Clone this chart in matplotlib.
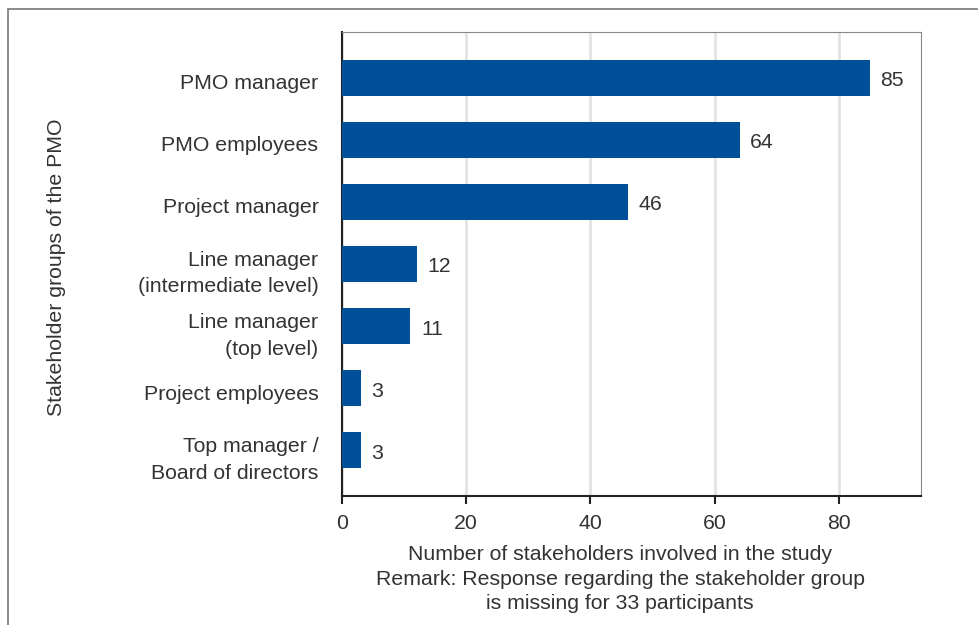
import matplotlib.pyplot as plt
import matplotlib.transforms as mtransforms
from matplotlib.patches import Rectangle

plt.rcParams["font.family"] = ["Liberation Sans", "DejaVu Sans"]

# Stakeholder groups, top to bottom
groups = [
    "PMO manager",
    "PMO employees",
    "Project manager",
    "Line manager\n(intermediate level)",
    "Line manager\n(top level)",
    "Project employees",
    "Top manager /\nBoard of directors",
]
counts = [85, 64, 46, 12, 11, 3, 3]
xticks = [0, 20, 40, 60, 80]

bar_color = "#004f98"
text_color = "#333333"
fs = 15.3

fig = plt.figure(figsize=(9.79, 6.25), dpi=100)
ax = fig.add_axes([342 / 979, 1 - 496 / 625, (921 - 342) / 979, (496 - 32) / 625])

# Outer frame around the figure
fig.patches.append(Rectangle((8 / 979, -0.1), 1.1, 1 - 9 / 625 + 0.1,
                             transform=fig.transFigure, fill=False,
                             edgecolor="#777777", linewidth=1.2))

# small downward offset in pixels for value labels and group names
def down(px):
    return mtransforms.ScaledTranslation(0, -px / 100, fig.dpi_scale_trans)

ypos = list(range(len(groups)))
ax.barh(ypos, counts, height=0.59, color=bar_color, zorder=3)
for y, c in zip(ypos, counts):
    ax.text(c + 1.7, y, str(c), va="center", ha="left",
            fontsize=fs, color=text_color, transform=ax.transData + down(3))

ax.set_xlim(0, 93.2)
ax.set_ylim(len(groups) - 0.26, -0.74)
ax.set_yticks(ypos)
ax.set_yticklabels(groups, fontsize=fs, color=text_color, linespacing=1.5)
ax.set_xticks(xticks)
ax.set_xticklabels([str(t) for t in xticks], fontsize=fs, color=text_color)
ax.tick_params(axis="y", length=0, pad=17)
ax.tick_params(axis="x", length=6, width=1.5, color="#222222", pad=7)

for lab in ax.get_yticklabels():
    lab.set_transform(lab.get_transform() + down(4))

ax.grid(axis="x", color="#e3e3e3", linewidth=2, zorder=0)
ax.set_axisbelow(True)

ax.spines["left"].set_color("#222222")
ax.spines["left"].set_linewidth(1.5)
ax.spines["bottom"].set_color("#222222")
ax.spines["bottom"].set_linewidth(1.5)
ax.spines["top"].set_color("#888888")
ax.spines["right"].set_color("#888888")

ax.set_xlabel("Number of stakeholders involved in the study\n"
              "Remark: Response regarding the stakeholder group\n"
              "is missing for 33 participants",
              fontsize=fs, color=text_color, linespacing=1.37)
ax.xaxis.set_label_coords((620 - 342) / 579, -(545 - 496) / 464, transform=ax.transAxes)
ax.xaxis.label.set_va("top")
fig.text(57 / 979, 1 - 267 / 625, "Stakeholder groups of the PMO",
         rotation=90, va="center", ha="center", fontsize=fs, color=text_color)

fig.savefig("out.png", dpi=100)
